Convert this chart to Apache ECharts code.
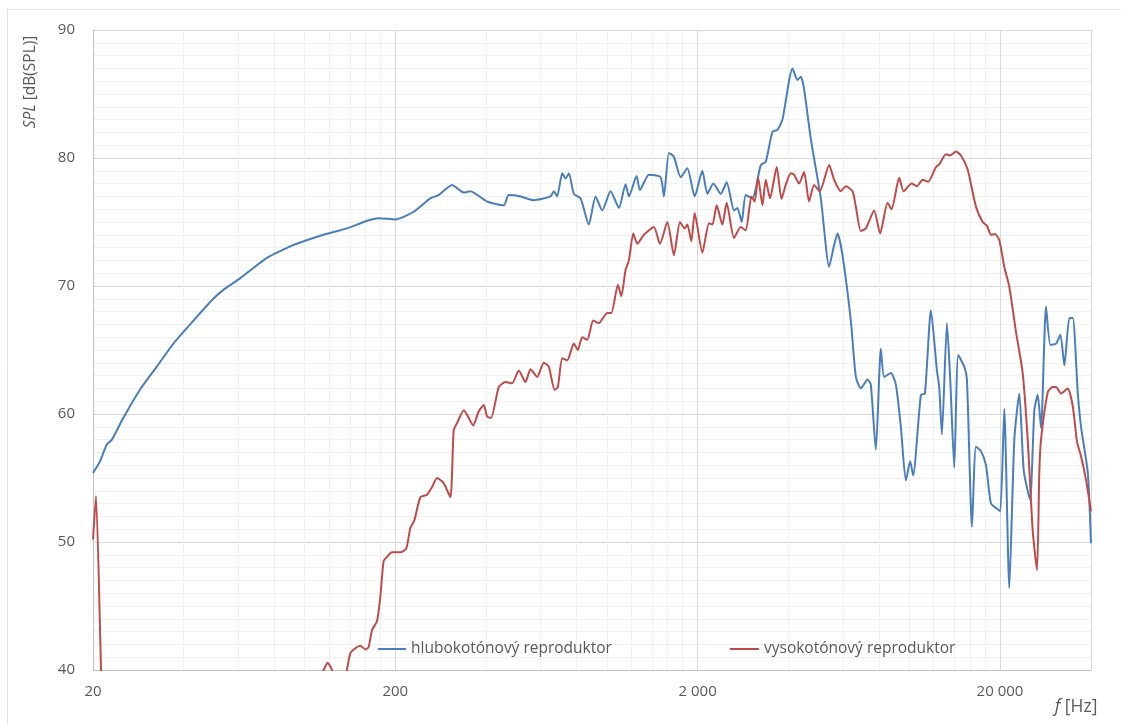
<!DOCTYPE html>
<html>
<head>
<meta charset="utf-8">
<script src="https://cdn.jsdelivr.net/npm/echarts@6/dist/echarts.min.js"></script>
<style>
  html,body{margin:0;padding:0;background:#fff;}
  #chart{width:1121px;height:724px;}
</style>
</head>
<body>
<div id="chart"></div>
<script>
// frequency response (Hz, dB SPL)
const BLUE_F = [
  20, 21.1, 22.2, 23.1, 25.2, 28.6, 32.5, 36.9, 41.9, 50,
  54, 61.3, 75.2, 89.8, 96.9, 115.8, 138.4, 161.2, 176.1, 200,
  230, 261, 278, 308, 337, 354, 402, 457, 474, 519,
  574, 652, 669, 686, 713, 731, 750, 779, 820, 873,
  919, 967, 1030, 1098, 1155, 1185, 1256, 1288, 1380, 1508,
  1547, 1607, 1669, 1757, 1849, 1955, 2073, 2153, 2254, 2384,
  2495, 2638, 2707, 2797, 2884, 3035, 3113, 3234, 3359, 3535,
  3672, 3815, 4118, 4277, 4387, 4498, 4734, 5110, 5444, 5655,
  5802, 6028, 6422, 6672, 6930, 7294, 7478, 7770, 8072, 8278,
  8712, 9050, 9400, 9766, 10092, 10324, 10948, 11290, 11818, 12372,
  12590, 12852, 13352, 13692, 14118, 14554, 15236, 15550, 16156, 16654,
  17302, 17974, 18674, 19550, 20046, 20664, 21470, 22306, 23170, 23962,
  25138, 25980, 26660, 27340, 28400, 29360, 30640, 31680, 32660, 33920,
  34820, 36180, 37080, 39040, 40000
];
const BLUE_DB = [
  55.4, 56.3, 57.6, 58.0, 59.7, 61.9, 63.7, 65.5, 67.0, 69.0,
  69.7, 70.6, 72.2, 73.1, 73.4, 74.0, 74.5, 75.1, 75.3, 75.2,
  75.8, 76.85, 77.1, 77.9, 77.3, 77.4, 76.6, 76.3, 77.1, 77.0,
  76.7, 77.0, 77.4, 77.0, 78.8, 78.4, 78.8, 77.2, 76.85, 74.8,
  77.0, 75.9, 77.4, 76.1, 77.95, 77.0, 78.6, 77.5, 78.7, 78.5,
  77.0, 80.4, 80.1, 78.5, 79.2, 77.0, 79.0, 77.2, 78.0, 77.2,
  78.1, 75.9, 76.1, 75.0, 77.1, 76.85, 77.6, 79.45, 79.7, 82.05,
  82.2, 83.0, 87.0, 86.1, 86.35, 85.4, 81.5, 76.85, 71.5, 73.2,
  74.1, 72.4, 67.3, 62.9, 62.0, 62.7, 62.3, 57.2, 65.1, 62.9,
  63.2, 62.3, 59.0, 54.8, 56.3, 55.2, 61.5, 61.6, 68.1, 63.4,
  62.1, 58.4, 67.1, 62.7, 55.8, 64.6, 63.7, 62.7, 51.2, 57.45,
  57.1, 56.0, 53.0, 52.6, 52.4, 60.4, 46.4, 58.0, 61.6, 55.6,
  53.3, 60.3, 61.5, 58.9, 68.4, 65.4, 65.5, 66.2, 63.8, 67.5,
  67.5, 61.6, 59.0, 55.4, 49.9
];
const RED_F = [
  20, 20.46, 21.26, 21.7, 110, 112.9, 115.8, 119.4, 123.4, 127.5,
  134.5, 138.4, 141.9, 147.4, 153.2, 159.1, 163.2, 167.4, 173.9, 178.4,
  182.9, 187.7, 195.0, 207.8, 217.5, 224.2, 231.2, 242.0, 254.7, 264.6,
  274.8, 288.9, 304.2, 312.0, 320.2, 336.8, 349.7, 361.6, 377.4, 392.2,
  402.4, 414.9, 439.6, 462.7, 486.9, 512.0, 538.9, 559.8, 589.2, 619.7,
  643.7, 672.2, 689.4, 713, 740.6, 779, 803, 830, 862.6, 902.6,
  942, 1004.6, 1036, 1089.6, 1118, 1155, 1185, 1225, 1263, 1328,
  1433, 1501, 1588, 1669, 1748, 1811, 1849, 1906, 1955, 2073,
  2180, 2238, 2312, 2414, 2495, 2638, 2776, 2884, 3012, 3088,
  3168, 3276, 3359, 3470, 3652, 3786, 3912, 4064, 4168, 4330,
  4498, 4672, 4854, 5070, 5444, 5655, 5950, 6182, 6506, 6672,
  6930, 7198, 7672, 8028, 8494, 8758, 9282, 9598, 10202, 10624,
  11092, 11578, 12280, 12590, 13250, 13660, 14302, 14858, 15634, 16654,
  17526, 18114, 18674, 19252, 19894, 20664, 21470, 22596, 23776, 24700,
  25660, 26520, 26980, 27340, 28780, 29880, 30640, 31840, 33520, 34820,
  35980, 37080, 38540, 40000
];
const RED_DB = [
  50.2, 53.6, 40.0, 32.0, 32.0, 39.5, 40.0, 40.57, 40.0, 38.0,
  38.0, 40.0, 41.3, 41.7, 41.9, 41.6, 41.8, 43.1, 43.8, 45.7,
  48.5, 48.85, 49.2, 49.2, 49.5, 51.1, 51.7, 53.5, 53.7, 54.3,
  55.0, 54.6, 53.5, 58.75, 59.3, 60.3, 59.7, 59.1, 60.2, 60.7,
  59.8, 59.7, 62.1, 62.5, 62.4, 63.4, 62.5, 63.5, 62.9, 64.0,
  63.7, 61.9, 62.1, 64.35, 64.2, 65.5, 65.0, 66.0, 65.8, 67.3,
  67.1, 67.9, 67.9, 70.1, 69.2, 71.25, 72.0, 74.1, 73.3, 74.0,
  74.6, 73.3, 75.0, 72.4, 75.0, 74.5, 74.8, 73.5, 75.7, 72.6,
  74.9, 74.8, 76.3, 74.8, 76.5, 73.75, 74.6, 74.35, 77.0, 76.6,
  78.5, 76.3, 78.3, 76.85, 79.3, 76.8, 77.9, 78.8, 78.7, 78.0,
  78.9, 76.6, 77.9, 77.4, 79.45, 78.3, 77.4, 77.8, 77.4, 76.2,
  74.3, 74.5, 75.9, 74.1, 76.5, 76.0, 78.45, 77.4, 78.0, 77.8,
  78.3, 78.15, 79.3, 79.5, 80.3, 80.2, 80.5, 80.2, 79.1, 76.2,
  75.0, 74.7, 74.0, 74.06, 73.6, 71.5, 69.95, 66.4, 63.2, 58.0,
  50.9, 47.8, 55.4, 58.0, 61.7, 62.1, 62.1, 61.6, 62.0, 60.6,
  57.8, 56.7, 54.8, 52.4
];
const NAMES = ['hlubokotónový reproduktor', 'vysokotónový reproduktor'];
const F_MIN = 20, F_MAX = 40000;
// minor vertical grid (Hz)
const MINOR_F = [40,60,80,100,120,140,160,180, 400,600,800,1000,1200,1400,1600,1800,
                 4000,6000,8000,10000,12000,14000,16000,18000];

const FONT = '"Open Sans", "DejaVu Sans", sans-serif';
const GREY = '#595959';
// x axis works on decades above 20 Hz, so 20/200/2000/20000 land on whole ticks
const lx = f => Math.log10(f / F_MIN);
const pairs = (F, V) => F.map((f, i) => [lx(f), V[i]]);
const fmtHz = v => String(Math.round(F_MIN * Math.pow(10, v))).replace(/\B(?=(\d{3})+(?!\d))/g, ' ');

const chart = echarts.init(document.getElementById('chart'), null, {renderer: 'canvas'});
chart.setOption({
  animation: false,
  backgroundColor: '#fff',
  grid: {left: 93, right: 30, top: 30, bottom: 54},
  xAxis: {
    type: 'value', min: 0, max: lx(F_MAX), interval: 1,
    axisLine: {show: true, lineStyle: {color: '#bfbfbf'}},
    axisTick: {show: false},
    axisLabel: {color: GREY, fontFamily: FONT, fontSize: 15, margin: 14,
      formatter: v => v > 3.2 ? '' : fmtHz(v)},
    splitLine: {show: true, lineStyle: {color: '#d9d9d9'}}
  },
  yAxis: {
    type: 'value', min: 40, max: 90, interval: 10,
    axisLine: {show: true, lineStyle: {color: '#bfbfbf'}},
    axisTick: {show: false},
    minorTick: {show: false, splitNumber: 10},
    minorSplitLine: {show: true, lineStyle: {color: '#f0f0f0'}},
    axisLabel: {color: GREY, fontFamily: FONT, fontSize: 15, margin: 18},
    splitLine: {show: true, lineStyle: {color: '#d9d9d9'}}
  },
  legend: [
    {data: [NAMES[0]], left: 378, top: 641, padding: 0, icon: 'rect', itemWidth: 28, itemHeight: 2,
     textStyle: {color: GREY, fontFamily: FONT, fontSize: 15.5}},
    {data: [NAMES[1]], left: 730, top: 641, padding: 0, icon: 'rect', itemWidth: 29, itemHeight: 2,
     textStyle: {color: GREY, fontFamily: FONT, fontSize: 15.5}}
  ],
  graphic: [
    {type: 'rect', shape: {x: 7.5, y: 9.5, width: 1200, height: 800}, silent: true,
     style: {fill: 'none', stroke: '#e3e3e3', lineWidth: 1}},
    {type: 'text', x: 31, y: 82, rotation: Math.PI / 2,
     style: {text: '{i|SPL} [dB(SPL)]', fill: GREY, fontFamily: FONT, fontSize: 15.5,
       align: 'center', verticalAlign: 'middle',
       rich: {i: {fontStyle: 'italic', fill: GREY, fontFamily: FONT, fontSize: 15.5}}}},
    {type: 'text', x: 1076, y: 707,
     style: {text: '{i|f} [Hz]', fill: GREY, fontFamily: FONT, fontSize: 17.5,
       align: 'center', verticalAlign: 'middle',
       rich: {i: {fontStyle: 'italic', fill: GREY, fontFamily: FONT, fontSize: 18}}}}
  ],
  series: [
    {type: 'line', name: 'grid', data: [], silent: true, z: 1,
     markLine: {silent: true, symbol: ['none', 'none'], z: 1, label: {show: false},
       lineStyle: {color: '#f0f0f0', width: 1, type: 'solid'},
       data: MINOR_F.map(f => ({xAxis: lx(f)}))}},
    {type: 'line', name: NAMES[0], data: pairs(BLUE_F, BLUE_DB), showSymbol: false, symbol: 'none',
     smooth: 0.2, clip: true, color: '#4a7ebb', lineStyle: {width: 2, color: '#4a7ebb'}, z: 3},
    {type: 'line', name: NAMES[1], data: pairs(RED_F, RED_DB), showSymbol: false, symbol: 'none',
     smooth: 0.2, clip: true, color: '#be4b48', lineStyle: {width: 2, color: '#be4b48'}, z: 4}
  ]
});
</script>
</body>
</html>
